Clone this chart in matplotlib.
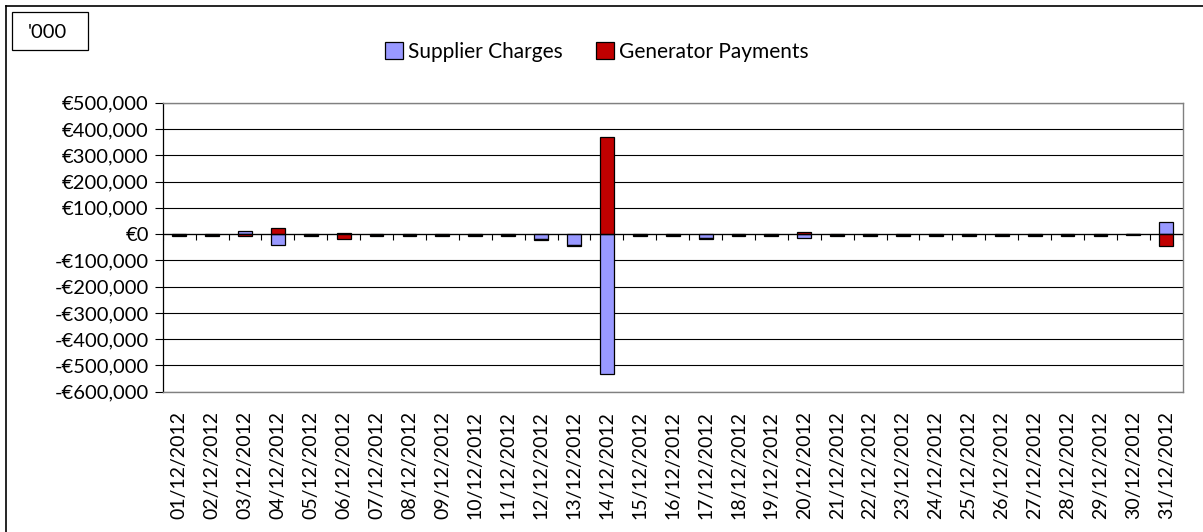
import matplotlib
matplotlib.use("Agg")
import matplotlib.pyplot as plt
from matplotlib.patches import Patch, Rectangle
from matplotlib.lines import Line2D
from matplotlib.ticker import FuncFormatter, MultipleLocator
import numpy as np

plt.rcParams['font.family'] = ['Lato', 'DejaVu Sans']

dates = [f"{d:02d}/12/2012" for d in range(1, 32)]
supplier = [-4000, -4000, 13000, -40000, -4000, 4000, -4000, -4000, -4000, -4000,
            -4000, -17000, -42000, -533000, -4000, -4000, -14000, -4000, -4000, -16000,
            -4000, -4000, -4000, -4000, -4000, -4000, -4000, -4000, -4000, -1000,
            45000]
generator = [-4000, -4000, -8000, 22000, -4000, -18000, -4000, -4000, -4000, -4000,
             -4000, -4000, -4000, 369000, -4000, -4000, -3000, -4000, -4000, 6000,
             -4000, -4000, -4000, -4000, -4000, -4000, -4000, -4000, -4000, -1000,
             -45000]
series_names = ["Supplier Charges", "Generator Payments"]
colors = ["#9999FF", "#C00000"]

W, H = 1203, 532
fig = plt.figure(figsize=(W / 100, H / 100), dpi=100)
l, r, t, b = 162.7, 1182.7, 102.7, 391.7
ax = fig.add_axes([l / W, 1 - b / H, (r - l) / W, (b - t) / H])

x = np.arange(len(dates))
pos = np.zeros(len(dates))
neg = np.zeros(len(dates))
for vals, col in zip([supplier, generator], colors):
    v = np.array(vals, dtype=float)
    bottoms = np.where(v >= 0, pos, neg)
    ax.bar(x, v, bottom=bottoms, width=0.42, color=col, edgecolor='black',
           linewidth=0.9, zorder=3)
    pos = pos + np.where(v >= 0, v, 0)
    neg = neg + np.where(v < 0, v, 0)

ax.set_xlim(-0.5, len(dates) - 0.5)
ax.set_ylim(-600000, 500000)
ax.yaxis.set_major_locator(MultipleLocator(100000))


def fmt(v, _):
    v = int(round(v))
    if v < 0:
        return "-€{:,}".format(-v)
    return "€{:,}".format(v)


ax.yaxis.set_major_formatter(FuncFormatter(fmt))
ax.grid(axis='y', color='black', linewidth=0.8, zorder=1)
ax.axhline(0, color='black', linewidth=0.9, zorder=4)
# category boundary tick marks on the zero line
ax.vlines(np.arange(len(dates) + 1) - 0.5, -22000, 0, color='black',
          linewidth=0.8, zorder=4)

ax.set_xticks(x)
ax.set_xticklabels(dates, rotation=90, fontsize=14)
ax.tick_params(axis='x', length=0, pad=14)
ax.tick_params(axis='y', length=6, width=0.8, labelsize=14.5, pad=4, color='black')

for s in ['top', 'right', 'bottom']:
    ax.spines[s].set_color('#808080')
    ax.spines[s].set_linewidth(1.0)
ax.spines['left'].set_color('black')
ax.spines['left'].set_linewidth(0.9)

# legend
handles = [Patch(facecolor=c, edgecolor='black', linewidth=0.9) for c in colors]
fig.legend(handles, series_names, loc='center', bbox_to_anchor=(597 / W, 1 - 52 / H),
           ncol=2, frameon=False, fontsize=15, handlelength=0.85, handleheight=0.85,
           handletextpad=0.25, columnspacing=1.6, borderaxespad=0)

# '000 box
fig.add_artist(Rectangle((12.3 / W, 1 - 50 / H), (87.7 - 12.3) / W, (50 - 12.3) / H,
                         transform=fig.transFigure, facecolor='white',
                         edgecolor='black', linewidth=0.9))
fig.text(28 / W, 1 - 32 / H, "'000", fontsize=14.5, va='center', ha='left')

# outer frame (top and left)
fig.add_artist(Line2D([5.7 / W, 1], [1 - 5.7 / H, 1 - 5.7 / H], transform=fig.transFigure,
                      color='black', linewidth=1.2))
fig.add_artist(Line2D([5.7 / W, 5.7 / W], [0, 1 - 5.7 / H], transform=fig.transFigure,
                      color='black', linewidth=1.2))

fig.savefig("out.png", dpi=100)
